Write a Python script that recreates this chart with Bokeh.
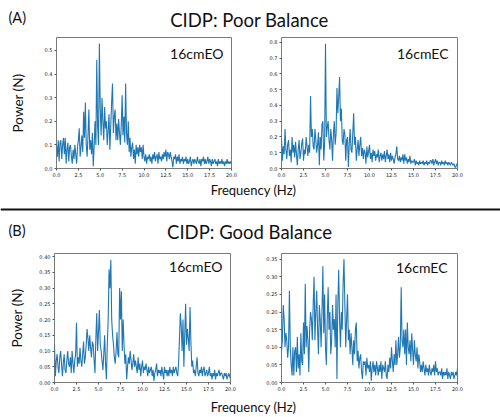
from bokeh.plotting import figure
from bokeh.layouts import column, row
from bokeh.models import Range1d, FixedTicker, PrintfTickFormatter, Span
from bokeh.core.properties import value
from bokeh.embed import file_html
from bokeh.resources import INLINE

# ---------------- data ----------------
FREQ_STEP = 0.1  # Hz between samples
X_TICKS = [0.0, 2.5, 5.0, 7.5, 10.0, 12.5, 15.0, 17.5, 20.0]

SECTION_TITLES = ["CIDP: Poor Balance", "CIDP: Good Balance"]
SECTION_TAGS = ["(A)", "(B)"]
PANEL_LABELS = ["16cmEO", "16cmEC"]
X_LABEL = "Frequency (Hz)"
Y_LABEL = "Power (N)"

poor_eo = [
    0.10, 0.05, 0.12, 0.03, 0.11, 0.12, 0.04, 0.10, 0.13, 0.06,
    0.13, 0.02, 0.08, 0.11, 0.03, 0.09, 0.10, 0.05, 0.02, 0.08,
    0.04, 0.10, 0.06, 0.02, 0.09, 0.12, 0.17, 0.05, 0.09, 0.14,
    0.07, 0.24, 0.13, 0.28, 0.10, 0.05, 0.14, 0.25, 0.08, 0.12,
    0.06, 0.15, 0.01, 0.09, 0.20, 0.10, 0.46, 0.18, 0.10, 0.53,
    0.25, 0.14, 0.30, 0.20, 0.12, 0.26, 0.17, 0.20, 0.10, 0.16,
    0.23, 0.08, 0.18, 0.28, 0.36, 0.15, 0.22, 0.25, 0.12, 0.19,
    0.12, 0.21, 0.15, 0.10, 0.18, 0.31, 0.14, 0.22, 0.11, 0.36,
    0.15, 0.10, 0.20, 0.07, 0.13, 0.05, 0.09, 0.11, 0.04, 0.08,
    0.02, 0.10, 0.06, 0.09, 0.05, 0.10, 0.07, 0.09, 0.04, 0.10,
    0.05, 0.03, 0.06, 0.02, 0.05, 0.04, 0.06, 0.03, 0.05, 0.02,
    0.06, 0.04, 0.07, 0.03, 0.05, 0.06, 0.02, 0.07, 0.04, 0.05,
    0.03, 0.06, 0.04, 0.07, 0.05, 0.08, 0.03, 0.07, 0.06, 0.04,
    0.07, 0.05, 0.03, 0.005, 0.05, 0.04, 0.06, 0.02, 0.05, 0.03,
    0.06, 0.02, 0.04, 0.03, 0.05, 0.02, 0.04, 0.03, 0.05, 0.02,
    0.04, 0.02, 0.03, 0.05, 0.01, 0.03, 0.04, 0.02, 0.04, 0.03,
    0.02, 0.05, 0.03, 0.02, 0.04, 0.01, 0.04, 0.03, 0.05, 0.02,
    0.04, 0.02, 0.03, 0.05, 0.02, 0.04, 0.03, 0.01, 0.04, 0.02,
    0.03, 0.04, 0.02, 0.03, 0.01, 0.04, 0.02, 0.03, 0.02, 0.04,
    0.02, 0.03, 0.01, 0.03, 0.02, 0.04, 0.02, 0.03, 0.02, 0.03,
    0.02,
]

poor_ec = [
    0.19, 0.05, 0.14, 0.09, 0.25, 0.12, 0.06, 0.15, 0.18, 0.08,
    0.12, 0.04, 0.20, 0.10, 0.15, 0.07, 0.17, 0.09, 0.02, 0.12,
    0.18, 0.06, 0.10, 0.16, 0.19, 0.05, 0.12, 0.09, 0.20, 0.14,
    0.08, 0.15, 0.10, 0.46, 0.20, 0.25, 0.14, 0.12, 0.25, 0.18,
    0.10, 0.15, 0.23, 0.02, 0.20, 0.12, 0.28, 0.30, 0.05, 0.16,
    0.79, 0.20, 0.26, 0.30, 0.18, 0.12, 0.25, 0.18, 0.05, 0.22,
    0.30, 0.15, 0.22, 0.51, 0.35, 0.45, 0.58, 0.30, 0.38, 0.18,
    0.15, 0.25, 0.22, 0.05, 0.18, 0.20, 0.01, 0.16, 0.25, 0.12,
    0.10, 0.22, 0.35, 0.15, 0.20, 0.05, 0.12, 0.18, 0.08, 0.15,
    0.20, 0.08, 0.13, 0.06, 0.12, 0.10, 0.03, 0.14, 0.07, 0.11,
    0.15, 0.06, 0.10, 0.04, 0.12, 0.08, 0.11, 0.05, 0.09, 0.07,
    0.12, 0.04, 0.08, 0.10, 0.05, 0.09, 0.06, 0.11, 0.04, 0.08,
    0.12, 0.06, 0.09, 0.04, 0.10, 0.05, 0.08, 0.06, 0.03, 0.07,
    0.09, 0.14, 0.06, 0.05, 0.08, 0.04, 0.07, 0.05, 0.09, 0.03,
    0.09, 0.05, 0.07, 0.03, 0.06, 0.04, 0.08, 0.03, 0.05, 0.04,
    0.04, 0.06, 0.02, 0.05, 0.03, 0.04, 0.02, 0.05, 0.03, 0.04,
    0.03, 0.05, 0.02, 0.04, 0.03, 0.05, 0.02, 0.04, 0.03, 0.05,
    0.05, 0.03, 0.06, 0.02, 0.04, 0.06, 0.03, 0.05, 0.02, 0.04,
    0.04, 0.02, 0.05, 0.03, 0.04, 0.02, 0.05, 0.03, 0.04, 0.02,
    0.04, 0.03, 0.02, 0.04, 0.03, 0.02, 0.03, 0.01, 0.005, 0.03,
    0.02,
]

good_eo = [
    0.12, 0.02, 0.07, 0.09, 0.05, 0.03, 0.08, 0.10, 0.06, 0.02,
    0.06, 0.09, 0.04, 0.03, 0.07, 0.10, 0.06, 0.05, 0.08, 0.03,
    0.10, 0.06, 0.03, 0.07, 0.09, 0.19, 0.05, 0.08, 0.06, 0.11,
    0.07, 0.05, 0.09, 0.13, 0.06, 0.08, 0.12, 0.17, 0.14, 0.10,
    0.15, 0.11, 0.08, 0.13, 0.12, 0.07, 0.03, 0.14, 0.22, 0.10,
    0.16, 0.23, 0.12, 0.10, 0.07, 0.04, 0.09, 0.15, 0.06, 0.01,
    0.12, 0.20, 0.36, 0.30, 0.39, 0.20, 0.15, 0.12, 0.08, 0.06,
    0.10, 0.16, 0.09, 0.08, 0.30, 0.20, 0.29, 0.10, 0.20, 0.12,
    0.06, 0.09, 0.01, 0.05, 0.08, 0.06, 0.10, 0.07, 0.04, 0.06,
    0.09, 0.05, 0.07, 0.05, 0.03, 0.08, 0.04, 0.06, 0.02, 0.05,
    0.07, 0.03, 0.05, 0.04, 0.06, 0.04, 0.02, 0.05, 0.03, 0.04,
    0.05, 0.02, 0.04, 0.005, 0.03, 0.04, 0.06, 0.02, 0.04, 0.03,
    0.04, 0.02, 0.05, 0.03, 0.01, 0.05, 0.03, 0.04, 0.02, 0.04,
    0.02, 0.05, 0.03, 0.04, 0.02, 0.05, 0.03, 0.04, 0.05, 0.03,
    0.02, 0.06, 0.14, 0.22, 0.18, 0.10, 0.20, 0.05, 0.15, 0.25,
    0.12, 0.17, 0.14, 0.10, 0.24, 0.13, 0.05, 0.07, 0.03, 0.04,
    0.02, 0.05, 0.08, 0.03, 0.02, 0.04, 0.03, 0.05, 0.02, 0.04,
    0.05, 0.02, 0.03, 0.04, 0.02, 0.03, 0.05, 0.02, 0.03, 0.01,
    0.03, 0.02, 0.04, 0.01, 0.03, 0.02, 0.03, 0.04, 0.02, 0.03,
    0.03, 0.02, 0.01, 0.03, 0.02, 0.03, 0.01, 0.02, 0.03, 0.02,
    0.01,
]

good_ec = [
    0.09, 0.12, 0.22, 0.18, 0.10, 0.14, 0.12, 0.07, 0.10, 0.26,
    0.10, 0.05, 0.02, 0.10, 0.02, 0.09, 0.10, 0.03, 0.13, 0.04,
    0.08, 0.02, 0.14, 0.06, 0.05, 0.17, 0.08, 0.28, 0.10, 0.16,
    0.12, 0.03, 0.15, 0.20, 0.18, 0.12, 0.22, 0.30, 0.12, 0.20,
    0.26, 0.15, 0.08, 0.22, 0.18, 0.10, 0.20, 0.33, 0.14, 0.25,
    0.10, 0.05, 0.18, 0.27, 0.15, 0.20, 0.08, 0.12, 0.22, 0.15,
    0.18, 0.10, 0.25, 0.01, 0.22, 0.32, 0.18, 0.10, 0.20, 0.15,
    0.28, 0.35, 0.22, 0.10, 0.18, 0.25, 0.12, 0.15, 0.08, 0.14,
    0.10, 0.05, 0.12, 0.08, 0.15, 0.17, 0.06, 0.09, 0.04, 0.07,
    0.08, 0.03, 0.01, 0.06, 0.05, 0.06, 0.02, 0.07, 0.04, 0.05,
    0.03, 0.06, 0.005, 0.04, 0.06, 0.03, 0.05, 0.02, 0.06, 0.04,
    0.02, 0.05, 0.03, 0.06, 0.01, 0.05, 0.04, 0.03, 0.06, 0.02,
    0.01, 0.05, 0.03, 0.07, 0.04, 0.10, 0.06, 0.03, 0.08, 0.05,
    0.12, 0.05, 0.08, 0.13, 0.07, 0.10, 0.27, 0.12, 0.10, 0.15,
    0.08, 0.15, 0.05, 0.17, 0.10, 0.08, 0.12, 0.06, 0.14, 0.09,
    0.05, 0.12, 0.08, 0.06, 0.10, 0.04, 0.08, 0.06, 0.03, 0.05,
    0.03, 0.06, 0.04, 0.02, 0.05, 0.03, 0.04, 0.02, 0.05, 0.03,
    0.02, 0.04, 0.03, 0.05, 0.02, 0.06, 0.03, 0.04, 0.02, 0.03,
    0.03, 0.02, 0.04, 0.01, 0.03, 0.02, 0.03, 0.02, 0.04, 0.01,
    0.03, 0.02, 0.01, 0.03, 0.02, 0.03, 0.01, 0.02, 0.03, 0.02,
    0.04,
]

Y_TICKS_POOR_EO = [0.0, 0.1, 0.2, 0.3, 0.4, 0.5]
Y_TICKS_POOR_EC = [0.0, 0.1, 0.2, 0.3, 0.4, 0.5, 0.6, 0.7, 0.8]
Y_TICKS_GOOD_EO = [0.0, 0.05, 0.10, 0.15, 0.20, 0.25, 0.30, 0.35, 0.40]
Y_TICKS_GOOD_EC = [0.0, 0.05, 0.10, 0.15, 0.20, 0.25, 0.30, 0.35]

# ---------------- styling ----------------
LINE_COLOR = "#1f77b4"
ANNOT_FONT = "Lato"
TICK_FONT = "DejaVu Sans"
TOTAL_W = 500


def blank(w, h):
    p = figure(width=w, height=h, x_range=Range1d(0, w), y_range=Range1d(0, h),
               output_backend="svg", toolbar_location=None, title=None,
               x_axis_location=None, y_axis_location=None, min_border=0)
    p.grid.visible = False
    p.outline_line_color = None
    p.background_fill_color = "white"
    p.border_fill_color = "white"
    return p


def add_text(p, x, y_from_top, txt, size, align="left"):
    """Place text with its vertical middle y_from_top pixels below the strip's top."""
    h = p.height
    p.text(x=[x], y=[h - y_from_top], text=[txt], text_font=value(ANNOT_FONT),
           text_font_size=value(f"{size}px"), text_color="#111111",
           text_align=align, text_baseline="middle")


def panel(power, ytop, yticks, yfmt, label, w, h, bl, br, bt, bb, lab_dx, lab_dy,
          ylabel=None, ylabel_standoff=10):
    freq = [round(i * FREQ_STEP, 3) for i in range(len(power))]
    p = figure(width=w, height=h, x_range=Range1d(0, 20), y_range=Range1d(0, ytop),
               output_backend="svg", toolbar_location=None, title=None,
               min_border_left=bl, min_border_right=br,
               min_border_top=bt, min_border_bottom=bb)
    p.line(freq, power, line_color=LINE_COLOR, line_width=1.1)
    p.grid.visible = False
    p.outline_line_color = "#7a7a7a"
    p.outline_line_width = 1
    p.background_fill_color = "white"
    p.border_fill_color = "white"
    p.xaxis.ticker = FixedTicker(ticks=X_TICKS)
    p.xaxis.formatter = PrintfTickFormatter(format="%.1f")
    p.yaxis.ticker = FixedTicker(ticks=yticks)
    p.yaxis.formatter = PrintfTickFormatter(format=yfmt)
    for ax in (p.xaxis, p.yaxis):
        ax.axis_line_color = None
        ax.major_tick_line_color = "#555555"
        ax.major_tick_out = 2
        ax.major_tick_in = 0
        ax.minor_tick_line_color = None
        ax.major_label_text_font = TICK_FONT
        ax.major_label_text_font_size = "5px"
        ax.major_label_text_color = "#222222"
        ax.major_label_standoff = 2
    if ylabel:
        p.yaxis.axis_label = ylabel
        p.yaxis.axis_label_text_font = ANNOT_FONT
        p.yaxis.axis_label_text_font_size = "13.5px"
        p.yaxis.axis_label_text_font_style = "normal"
        p.yaxis.axis_label_text_color = "#111111"
        p.yaxis.axis_label_standoff = ylabel_standoff
    # panel label: right edge lab_dx px left of the frame's right side,
    # vertical middle lab_dy px below the frame's top
    fw = w - bl - br
    fh = h - bt - bb
    lx = 20 - lab_dx * 20.0 / fw
    ly = ytop - lab_dy * ytop / fh
    p.text(x=[lx], y=[ly], text=[label], text_font=value(ANNOT_FONT),
           text_font_size=value("14px"), text_color="#111111",
           text_align="right", text_baseline="middle")
    return p


# header A (page y 0-34)
hA = blank(TOTAL_W, 34)
add_text(hA, 8, 17, SECTION_TAGS[0], 14.5)
add_text(hA, 249, 19, SECTION_TITLES[0], 18.5, align="center")

# row A (page y 34-180)
pA1 = panel(poor_eo, 0.555, Y_TICKS_POOR_EO, "%.1f", PANEL_LABELS[0], 250, 146, 56, 19, 3, 12, 8, 16,
            ylabel=Y_LABEL, ylabel_standoff=16)
pA2 = panel(poor_ec, 0.83, Y_TICKS_POOR_EC, "%.1f", PANEL_LABELS[1], 250, 146, 31, 43, 3, 12, 9, 16)

# middle (page y 180-250): x label A, separator, header B
mid = blank(TOTAL_W, 70)
add_text(mid, 253, 9, X_LABEL, 13, align="center")
mid.add_layout(Span(location=70 - 29, dimension="width", line_color="#111111", line_width=2))
add_text(mid, 8, 49.5, SECTION_TAGS[1], 14.5)
add_text(mid, 249, 51.5, SECTION_TITLES[1], 18.5, align="center")

# row B (page y 250-393)
pB1 = panel(good_eo, 0.41, Y_TICKS_GOOD_EO, "%.2f", PANEL_LABELS[0], 250, 143, 54, 20, 3, 10, 8, 13.5,
            ylabel=Y_LABEL, ylabel_standoff=11)
pB2 = panel(good_ec, 0.366, Y_TICKS_GOOD_EC, "%.2f", PANEL_LABELS[1], 250, 143, 31, 43, 3, 10, 10, 14)

# footer (page y 393-417): x label B
foot = blank(TOTAL_W, 24)
add_text(foot, 253, 13, X_LABEL, 13, align="center")

layout = column(hA, row(pA1, pA2), mid, row(pB1, pB2), foot, spacing=0)

open("out.html", "w").write(file_html(layout, INLINE))
